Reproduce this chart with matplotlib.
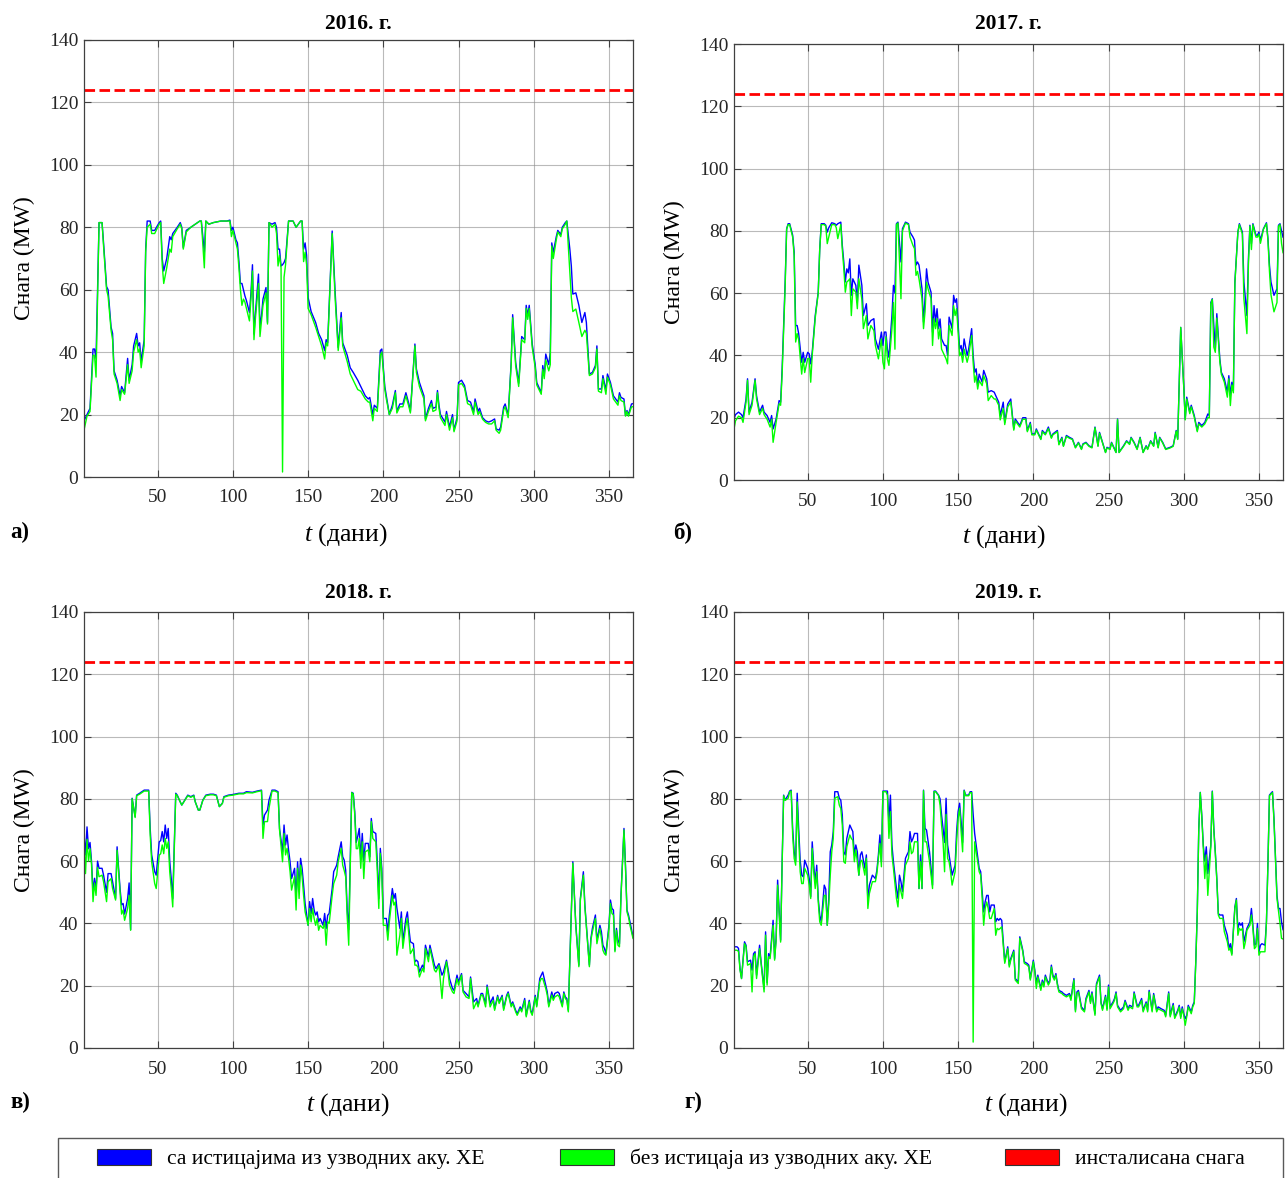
import matplotlib
matplotlib.use("Agg")
import matplotlib.pyplot as plt
from matplotlib.patches import Patch, Rectangle

plt.rcParams['font.family'] = ['Liberation Serif', 'DejaVu Serif']
plt.rcParams['mathtext.fontset'] = 'custom'
plt.rcParams['mathtext.rm'] = 'Liberation Serif'
plt.rcParams['mathtext.it'] = 'Liberation Serif:italic'

# ---------------- 2016 ----------------
days_2016 = [1, 3, 5, 7, 8, 9, 11, 13, 14, 16,
             17, 19, 20, 21, 23, 25, 26, 28, 30, 31,
             33, 34, 36, 37, 38, 39, 41, 42, 43, 45,
             46, 48, 51, 52, 53, 54, 56, 58, 59, 60,
             63, 65, 66, 67, 69, 72, 75, 78, 79, 81,
             82, 84, 87, 92, 96, 98, 99, 100, 102, 103,
             104, 105, 106, 107, 108, 109, 111, 112, 113, 114,
             115, 117, 118, 119, 120, 122, 123, 124, 126, 128,
             129, 130, 131, 132, 133, 134, 135, 137, 140, 142,
             145, 146, 147, 148, 149, 150, 152, 155, 157, 159,
             161, 162, 163, 166, 168, 170, 172, 173, 176, 178,
             180, 183, 185, 188, 190, 191, 193, 194, 196, 198,
             199, 201, 202, 204, 206, 208, 209, 211, 213, 215,
             217, 218, 221, 222, 224, 227, 228, 230, 232, 233,
             235, 236, 237, 238, 241, 242, 244, 246, 247, 249,
             250, 252, 254, 256, 258, 260, 261, 263, 264, 266,
             268, 270, 272, 274, 275, 277, 278, 280, 281, 283,
             285, 286, 288, 290, 292, 294, 295, 296, 297, 299,
             301, 302, 305, 306, 307, 308, 310, 311, 312, 313,
             315, 316, 318, 319, 321, 322, 324, 325, 326, 328,
             330, 332, 334, 335, 337, 339, 341, 342, 343, 345,
             346, 348, 349, 351, 353, 356, 357, 358, 360, 361,
             362, 363, 365, 366]
with_2016 = [18, 20, 22, 41, 41, 38, 81.5, 81.5, 75, 61,
             60, 48, 46, 34, 31, 26, 29, 27, 38, 31,
             36, 42, 46, 42, 43, 37, 44, 73, 82, 82,
             79, 79, 81.5, 82, 70, 66, 70, 77, 76, 78,
             80, 81.5, 80, 73.5, 79, 80, 81, 82, 82, 72,
             82, 81, 81.5, 82, 82, 82.3, 79, 80, 76, 75,
             69, 62, 62, 60, 58, 56.5, 52.7, 59, 68, 45.8,
             52.7, 65, 48, 51.6, 57, 60.7, 49.5, 81.5, 81, 81.5,
             80, 73, 73, 67.6, 68, 68.7, 70, 82, 82, 80,
             82, 82, 73, 75, 71, 57.5, 53, 49.5, 46, 44,
             40.5, 44, 43, 78.8, 59, 41.5, 52.7, 43, 39, 35,
             33.5, 31, 29, 26, 25, 25.5, 20, 23, 22, 40.5,
             41, 29, 26, 20, 23, 27.7, 21, 23.4, 23.4, 27,
             23.4, 21, 42.6, 34.6, 30.3, 26, 18.6, 22, 24.5, 22,
             22.4, 27.7, 23, 20, 17.6, 21, 16, 20, 15, 19,
             30.3, 31, 29.3, 24.5, 24, 20.8, 25, 21, 22, 19,
             18, 17.6, 18, 18.6, 15.4, 15, 16, 22.4, 23.4, 19.7,
             36.7, 52, 36.7, 30, 45, 44, 55, 51.6, 55, 42.6,
             36, 30.3, 27, 35.7, 32.5, 39.4, 36, 40, 75, 72,
             77, 79, 77.7, 80, 81.5, 82, 73, 67.6, 58.6, 59,
             55, 49.5, 52.7, 49.5, 33, 33.5, 35.7, 42, 28.2, 28.2,
             32.5, 27.7, 33, 30.3, 26, 24, 27, 25.5, 25, 19.7,
             21.3, 20, 23.4, 23.5]
without_2016 = [15, 19.5, 21, 39, 39, 32, 81.5, 81.5, 74, 60,
                58, 47, 44, 33, 30, 24.5, 28, 26.5, 36, 30,
                34, 40, 44, 40, 41, 35, 42, 72, 80, 81,
                78, 78, 81, 81.5, 68, 62, 67, 73, 72, 77,
                79.5, 81, 79.5, 73, 78.5, 80, 81, 82, 82, 67,
                82, 81, 81.5, 82, 82, 82, 77, 79, 75, 73,
                67, 60, 55, 57, 56, 54, 50, 57, 66, 44,
                51, 62, 45, 50, 55, 59, 49, 81.5, 80, 81,
                78, 67.6, 71, 67, 1.6, 64, 68, 82, 82, 80,
                82, 82, 69, 72, 68, 54, 52, 48, 45, 42,
                37.8, 43, 42, 78, 57, 40.5, 51, 42, 37, 33,
                31, 28, 27.5, 25, 24, 24, 18, 22, 21, 39,
                40, 28, 25, 20, 22, 27, 20.5, 22.5, 22.5, 26,
                22.5, 20.5, 42, 33.5, 29, 25, 18, 21, 23.5, 21,
                21.5, 27, 22, 19, 16.5, 20, 15, 19, 14.5, 18,
                29.5, 30, 28.5, 23.5, 23, 20, 24, 20, 21, 18.5,
                17.5, 17, 17, 18, 15, 14, 15, 21.5, 22.5, 19,
                36, 51, 35.5, 29, 44, 43, 54, 50.5, 54, 41.5,
                35, 29.5, 26.5, 34.5, 31.5, 37.5, 34, 36, 74, 70,
                76, 78.5, 77, 79.5, 81, 82, 66, 57.5, 53, 53.8,
                49.5, 45, 47, 46, 32.5, 33, 35, 41, 27.5, 27,
                31.5, 26.5, 32, 29.5, 25, 23, 26, 24.5, 24, 19.5,
                21, 19.5, 22.5, 22.5]

# ---------------- 2017 ----------------
days_2017 = [1, 2, 4, 6, 7, 9, 10, 11, 13, 15,
             16, 18, 20, 21, 23, 25, 26, 27, 29, 31,
             32, 33, 35, 36, 37, 38, 40, 41, 42, 43,
             44, 46, 47, 48, 50, 51, 52, 53, 55, 57,
             58, 59, 61, 62, 63, 64, 66, 68, 69, 70,
             72, 73, 74, 75, 76, 77, 78, 79, 80, 82,
             83, 84, 86, 87, 89, 90, 92, 94, 95, 97,
             99, 100, 101, 102, 103, 104, 106, 107, 108, 109,
             110, 112, 113, 115, 117, 118, 120, 121, 122, 123,
             124, 126, 127, 128, 129, 130, 132, 133, 134, 135,
             136, 137, 138, 139, 141, 142, 143, 144, 146, 147,
             148, 149, 151, 152, 153, 154, 156, 157, 159, 160,
             161, 162, 163, 164, 166, 167, 169, 170, 172, 174,
             175, 177, 178, 180, 181, 183, 185, 187, 188, 191,
             193, 195, 196, 198, 199, 201, 202, 205, 206, 208,
             210, 212, 213, 216, 217, 219, 220, 222, 224, 226,
             228, 230, 232, 233, 235, 237, 239, 241, 243, 244,
             246, 248, 249, 251, 252, 254, 255, 256, 257, 260,
             262, 264, 265, 267, 269, 271, 273, 275, 276, 278,
             280, 281, 283, 284, 286, 288, 291, 293, 295, 296,
             297, 298, 300, 301, 302, 304, 305, 307, 309, 310,
             312, 314, 316, 317, 318, 319, 320, 321, 322, 324,
             325, 327, 329, 330, 331, 332, 333, 334, 336, 337,
             339, 340, 341, 342, 343, 344, 345, 346, 348, 349,
             350, 351, 353, 355, 356, 357, 358, 360, 362, 363,
             364, 365, 366]
with_2017 = [19.6, 21, 21.8, 21, 20, 26, 32.5, 21.8, 25, 32.5,
             27, 21.8, 24, 21.8, 20.7, 18.5, 20.7, 16.4, 19.6, 25.5,
             25, 35.7, 63.5, 80.7, 82.3, 82.3, 78.6, 73.2, 49.6, 49.6,
             47, 37.8, 41, 37.8, 41, 40.5, 37.3, 41, 52.8, 60.3,
             74.3, 82.3, 82.3, 81.8, 79.6, 81, 82.6, 82.3, 81.8, 82.3,
             82.8, 75.4, 70, 63.6, 67.8, 66.5, 71, 59.3, 64.6, 62.5,
             57, 69, 62.5, 52.8, 56.6, 49.6, 51.2, 51.8, 45.3, 42,
             47.5, 43.2, 47.5, 47.5, 42, 39.4, 52.8, 62.5, 60, 82.3,
             82.8, 70, 80.7, 82.8, 82.3, 79.6, 78, 77, 69, 70,
             69, 61.4, 50.7, 58.2, 67.8, 63.5, 60.3, 47.5, 56, 50.7,
             55, 48.6, 51.7, 45.3, 43.2, 43.2, 40, 52.3, 48.6, 59.3,
             57, 58.2, 42, 43.2, 40, 45.3, 40, 42, 48.6, 40,
             34.6, 35.7, 30.3, 34, 31.4, 35.2, 32.5, 28.2, 28.7, 28.2,
             27.1, 25, 20.7, 25, 18.5, 24.4, 26, 16.4, 19.6, 17.5,
             20, 20, 15.9, 18.5, 14.8, 14.8, 16.4, 13.2, 15.9, 14.8,
             17, 13.7, 14.8, 15.9, 11.6, 13.7, 11, 14.3, 13.7, 13.2,
             10.5, 12.1, 10, 11.6, 12.1, 11, 10.5, 17, 11, 15.3,
             12.1, 8.9, 10.5, 10, 12.1, 10, 8.9, 19.6, 8.9, 11,
             12.6, 11.6, 13.7, 12.1, 10, 13.7, 8.9, 11, 10, 12.6,
             11, 15.3, 10.5, 13.7, 12.1, 10, 10.5, 11, 15.9, 13.2,
             31.4, 49, 30.3, 19.6, 26.6, 21.8, 24, 20.7, 15.9, 18.5,
             17.5, 18.5, 21.2, 20.7, 57, 58.2, 49.6, 42, 53.4, 38.9,
             34.6, 32.5, 28.2, 33.5, 27.1, 31.4, 28.7, 63.6, 79.6, 82.3,
             79.6, 63.6, 58.2, 52.8, 71, 81.8, 75.9, 82.3, 78.6, 78.6,
             79.6, 77, 80.7, 82.6, 77.5, 69, 63.6, 59.3, 61.4, 81.8,
             82.3, 80, 78]
without_2017 = [16.4, 19, 20.5, 20, 18.5, 25, 32, 21, 24, 32,
                26, 21, 23, 21, 19.5, 17, 19.5, 12.1, 18.5, 24.5,
                24, 34, 62, 80.5, 82, 82, 78, 72, 44.3, 47,
                45, 34, 39, 34.5, 39, 39, 31.4, 40, 52, 60,
                74, 82, 82, 81.5, 75.9, 78, 82, 82, 81, 77.5,
                82, 74, 68, 60.3, 63.6, 64, 64.6, 52.8, 61.4, 60.3,
                55, 64.6, 58, 48.6, 52.8, 45.3, 49.6, 48, 43.2, 38.9,
                45.3, 37.8, 35.7, 46, 38.9, 36.8, 48.6, 57, 42, 82,
                82.5, 58.2, 80, 82.5, 82, 78, 75.3, 74.3, 65.7, 67,
                64.6, 58.2, 48.6, 54, 63.5, 61.4, 58.2, 43.2, 51.8, 48.6,
                51.8, 45.3, 48.6, 42, 39.9, 38.9, 37.3, 49.6, 46.4, 56,
                52.8, 55, 39.9, 41, 37.8, 42, 37.8, 39.9, 46.4, 37.8,
                31.4, 33.5, 29.2, 31.9, 30.3, 33.5, 30.9, 25.5, 27.1, 26,
                26, 24, 19.3, 23, 17.8, 23.5, 25, 16, 19, 17,
                19.5, 19.5, 15.5, 18, 14.5, 14.5, 16, 13, 15.5, 14.5,
                16.5, 13.4, 14.5, 15.5, 11.3, 13.4, 10.8, 14, 13.4, 13,
                10.3, 11.9, 9.8, 11.4, 11.9, 10.8, 10.3, 16.8, 10.8, 15,
                11.9, 8.8, 10.3, 9.8, 11.9, 9.8, 8.8, 19.4, 8.8, 10.8,
                12.4, 11.4, 13.5, 11.9, 9.8, 13.5, 8.8, 10.8, 9.8, 12.4,
                10.8, 15, 10.3, 13.5, 11.9, 9.8, 10.3, 10.8, 15.7, 13,
                31, 49, 30, 19.3, 26, 21.3, 23.5, 20.2, 15.5, 18,
                17, 18, 20, 20, 56.5, 58, 42.7, 41, 52, 38,
                34, 31.4, 26.6, 32.5, 23.9, 30.5, 28, 63, 79.5, 82,
                79, 58.2, 52.8, 47, 69, 81.5, 74, 82, 78, 78,
                79, 76, 80.5, 82.3, 77, 67, 59.5, 54, 57, 81.5,
                82, 76, 73]

# ---------------- 2018 ----------------
days_2018 = [1, 2, 3, 4, 5, 6, 7, 8, 9, 10,
             11, 13, 14, 16, 17, 19, 20, 22, 23, 25,
             26, 27, 28, 30, 31, 32, 33, 35, 36, 38,
             41, 44, 45, 46, 48, 49, 51, 52, 53, 54,
             55, 56, 57, 58, 59, 60, 62, 63, 65, 66,
             68, 70, 72, 74, 75, 77, 78, 80, 82, 85,
             87, 89, 91, 93, 94, 97, 100, 104, 107, 109,
             113, 116, 119, 120, 121, 123, 124, 126, 128, 130,
             131, 133, 134, 135, 136, 137, 138, 139, 141, 142,
             143, 144, 145, 146, 147, 148, 150, 151, 152, 153,
             154, 155, 156, 157, 158, 160, 161, 162, 163, 164,
             166, 167, 169, 170, 172, 173, 174, 175, 176, 177,
             179, 180, 181, 182, 183, 184, 185, 186, 187, 188,
             190, 191, 192, 193, 195, 196, 197, 198, 199, 200,
             202, 203, 204, 206, 207, 208, 209, 211, 212, 213,
             215, 216, 217, 218, 220, 221, 222, 223, 224, 226,
             227, 228, 230, 231, 232, 234, 235, 237, 239, 240,
             242, 243, 244, 246, 247, 249, 250, 252, 253, 255,
             257, 258, 260, 262, 263, 265, 266, 268, 269, 271,
             273, 274, 276, 277, 279, 280, 282, 283, 285, 286,
             288, 289, 291, 292, 294, 295, 297, 298, 299, 301,
             302, 304, 305, 306, 308, 309, 310, 312, 313, 314,
             316, 317, 319, 320, 321, 322, 323, 325, 326, 328,
             330, 331, 333, 334, 335, 337, 338, 339, 341, 342,
             344, 345, 346, 347, 348, 350, 351, 352, 353, 354,
             355, 356, 357, 358, 360, 361, 362, 363, 364, 366]
with_2018 = [69, 62, 71, 64, 66, 60, 50, 54.5, 50.7, 60,
             57.7, 57.7, 55.5, 50, 56, 56, 53.4, 48, 64.6, 51,
             46, 46.4, 43, 48, 53, 38, 80.2, 74.3, 81.2, 81.8,
             82.8, 82.8, 70.5, 62, 56.6, 55.5, 66.2, 66.6, 69.5, 66.2,
             71.6, 67.3, 70.5, 60, 54.4, 48, 81.8, 81.2, 79, 78,
             79.6, 81.2, 80.7, 81.2, 79, 76.4, 76.4, 79.6, 81.2, 81.5,
             81.5, 81.2, 77.5, 78.6, 80.7, 81.2, 81.4, 81.8, 81.8, 82.3,
             82.1, 82.5, 82.8, 71.6, 74.8, 76.4, 79.6, 82.8, 82.8, 82.3,
             70.5, 63, 71.6, 65.2, 68.4, 63.6, 59.8, 54.4, 57.7, 48,
             59.8, 51.2, 60.9, 57.7, 52.3, 46.4, 39.4, 47, 43.2, 48,
             44.3, 42.7, 43.7, 40.5, 41.6, 39.4, 43.2, 38.4, 42.6, 43.2,
             51.2, 56.6, 58.7, 61.4, 66.2, 61.4, 60.3, 57, 44.3, 38,
             82.1, 81.8, 75.9, 66, 68, 70.5, 60.9, 68.9, 60, 65.7,
             65.7, 61.4, 73.7, 69.5, 68.9, 59.8, 48, 64.1, 57.7, 41.6,
             41.6, 37.3, 42.7, 51.2, 48, 49.6, 45, 38.4, 43.7, 34.1,
             41.6, 43.7, 38.4, 34.1, 33.5, 27.7, 28.2, 27.7, 24.4, 26.6,
             25.5, 33, 29.3, 33, 30.9, 26.6, 25.5, 27.1, 23.4, 24.4,
             28.2, 25.5, 22.3, 19.1, 18.5, 23.4, 21.2, 23.9, 18.5, 17.5,
             16.4, 22.8, 14.8, 15.9, 13.7, 17.5, 17.5, 14.3, 20.2, 14.3,
             16.4, 12.6, 16.9, 14.8, 16.9, 12.6, 16.9, 18, 13.7, 14.8,
             12.1, 11, 13.2, 12.1, 15.9, 10.5, 15.3, 12.1, 11, 16.9,
             13.7, 22.3, 23.4, 24.4, 20.2, 18, 13.7, 18, 15.9, 17.5,
             18, 17.5, 13.7, 18, 16.4, 15.9, 12.1, 43.7, 59.8, 39.4,
             26.6, 48, 56.6, 45.9, 39.4, 26.6, 35.2, 38.4, 42.7, 34.6,
             39.4, 37.3, 33, 32, 30.3, 39.4, 47.5, 44.8, 44.3, 31.4,
             38.4, 34.6, 33.5, 49, 70.5, 58.7, 44.3, 42.7, 40.5, 35.7]
without_2018 = [67, 56, 67, 60, 64, 59, 47, 53, 49, 58,
                55, 55.5, 53.4, 47, 53.4, 54.4, 51.2, 47.5, 63.5, 49.5,
                43, 44.3, 41, 44.8, 49, 37.8, 80, 74, 81, 81.5,
                82.5, 82.5, 68.4, 59.8, 52.8, 51.2, 61.9, 62.4, 65.2, 62.4,
                67.3, 64.1, 66.2, 56.6, 51.2, 45.3, 81.5, 81, 79, 78,
                79.5, 81, 80.5, 81, 79, 76.4, 76.4, 79.5, 81, 81.3,
                81.3, 81, 77.5, 78.5, 80.5, 81, 81.2, 81.6, 81.6, 82,
                81.9, 82.3, 82.6, 67.3, 72.7, 72.7, 77, 82.5, 82.5, 82,
                70, 59.8, 68.9, 62, 64.1, 60.9, 56.6, 50.7, 55, 44.3,
                57.7, 48, 58.7, 55, 49, 43.7, 39.4, 44.8, 40.5, 44.8,
                41.6, 39.4, 41.6, 37.8, 39.4, 38.4, 40.5, 33, 40.5, 40,
                49, 52.8, 55.5, 59.8, 64.1, 58.7, 57, 54.9, 42, 33,
                82, 81.5, 75, 64, 64, 67.3, 57.7, 66.2, 54.4, 63,
                63.6, 59.8, 72.7, 67.3, 66.2, 56.6, 44.8, 62.5, 56, 39.4,
                39.4, 34.6, 40.5, 49, 45.9, 46.9, 29.8, 36.2, 41.6, 32,
                39.4, 41.6, 36.2, 30.3, 32, 26.6, 26.6, 26, 22.8, 25.5,
                24.4, 31.9, 27.7, 31.9, 29.8, 25, 24.4, 26.5, 15.9, 22.3,
                27.7, 24.4, 20.2, 18, 17.5, 22.3, 20.2, 23.4, 18, 16.4,
                15.9, 22.3, 12.6, 14.8, 13.2, 17, 17, 13.2, 19.6, 13.2,
                15.3, 12.1, 16.4, 14.3, 16.4, 12.1, 16.4, 17.5, 13.2, 14.3,
                11.6, 10.5, 12.6, 11.6, 15.3, 10, 14.8, 11.6, 10.5, 16.4,
                13.2, 21.2, 22.3, 22.3, 19.1, 17, 13.2, 17, 15.3, 16.4,
                17, 16.4, 13.2, 17.5, 15.9, 15.3, 11.6, 43.2, 59.3, 38.9,
                26.1, 47.5, 55.5, 45.3, 38.9, 26.1, 34.6, 37.3, 41.6, 33.5,
                38.4, 35.2, 31.4, 30.3, 29.8, 38.4, 46.4, 43.2, 42.7, 30.9,
                37.8, 33, 32.5, 48.5, 70, 58, 43.7, 42, 39.4, 35.2]

# ---------------- 2019 ----------------
days_2019 = [1, 3, 4, 5, 6, 8, 9, 10, 12, 13,
             14, 15, 16, 18, 19, 21, 22, 23, 24, 25,
             27, 28, 29, 30, 32, 33, 34, 35, 37, 38,
             39, 40, 41, 42, 43, 44, 45, 46, 47, 48,
             50, 51, 52, 53, 54, 55, 56, 57, 58, 59,
             61, 62, 63, 64, 65, 66, 67, 68, 70, 71,
             72, 73, 74, 75, 76, 78, 79, 80, 81, 82,
             83, 84, 85, 86, 88, 89, 90, 91, 93, 95,
             96, 97, 98, 99, 100, 102, 103, 104, 105, 106,
             107, 109, 110, 111, 112, 113, 115, 116, 117, 118,
             119, 120, 121, 123, 124, 125, 126, 127, 128, 129,
             131, 132, 133, 134, 135, 137, 138, 139, 140, 141,
             142, 143, 144, 145, 146, 148, 149, 150, 151, 152,
             153, 154, 155, 157, 158, 159, 160, 161, 162, 164,
             165, 166, 167, 168, 169, 170, 171, 172, 174, 175,
             176, 177, 178, 179, 180, 181, 183, 184, 185, 187,
             188, 190, 191, 193, 194, 196, 197, 198, 200, 201,
             202, 203, 204, 205, 206, 207, 208, 210, 211, 212,
             213, 214, 215, 216, 217, 219, 220, 222, 224, 225,
             227, 228, 229, 230, 232, 233, 234, 235, 237, 238,
             239, 241, 242, 244, 245, 246, 248, 249, 250, 251,
             253, 254, 255, 256, 258, 260, 261, 263, 264, 266,
             267, 269, 270, 272, 273, 275, 276, 277, 279, 280,
             282, 283, 285, 287, 288, 290, 291, 293, 294, 296,
             297, 298, 299, 300, 301, 302, 303, 305, 306, 307,
             308, 309, 310, 311, 312, 313, 314, 315, 316, 318,
             319, 320, 321, 322, 323, 324, 326, 327, 329, 330,
             331, 332, 334, 335, 336, 337, 338, 339, 340, 341,
             342, 344, 345, 346, 347, 348, 349, 350, 351, 352,
             354, 355, 356, 357, 358, 359, 360, 362, 363, 364,
             365, 366]
with_2019 = [32.5, 32.5, 32, 25.5, 22.3, 34.1, 33, 27.7, 28.2, 25,
             30.3, 30.9, 23.4, 33, 27.7, 19, 37.3, 21, 30.3, 29.3,
             41, 28.7, 35.2, 53.9, 34.6, 59.8, 81.2, 79.6, 81.2, 82.5,
             82.8, 70.5, 63, 60, 81.8, 70.5, 60.3, 55.5, 55, 60.3,
             57.7, 54.4, 48.6, 66.2, 58.7, 53.4, 58.7, 48, 42.7, 40.5,
             52.3, 51, 39.4, 48, 63, 65.2, 69.5, 82.3, 82.3, 80.2,
             79.6, 74.8, 63, 62, 67.3, 71.6, 70.5, 69.5, 62, 65.2,
             63, 55.5, 62, 63, 57.7, 62, 47, 52.3, 55.5, 54.4,
             57.1, 62, 68.4, 59.8, 82.5, 82.5, 82.5, 72.7, 81.2, 65.2,
             59.8, 51.2, 48, 55.5, 53.4, 50.2, 60.9, 62, 63, 69.5,
             66.2, 67.3, 68.9, 68.9, 51.2, 62, 51.2, 82.8, 70.5, 70,
             63, 57.7, 52.3, 82.5, 82.5, 81.2, 80, 74.8, 70.5, 66,
             80.2, 65.2, 62, 58.7, 55.5, 58.7, 69.5, 75.9, 78.6, 72.7,
             66, 82.8, 81.2, 81.2, 82.3, 82.3, 75, 68.9, 65.2, 57.7,
             56.6, 50.2, 43.7, 47, 49, 49, 43.7, 45.9, 45.9, 40.5,
             41.6, 41, 41.6, 41, 34.1, 27.7, 32.5, 26.6, 28.7, 31.4,
             22.3, 21.2, 35.7, 31.4, 27.7, 27.1, 26.6, 22.3, 28.2, 25,
             20.7, 23.4, 21.2, 19.1, 21.8, 20.2, 23.4, 20.7, 21.8, 26.6,
             23.4, 22.3, 23.9, 20.7, 18.5, 18, 17.5, 16.9, 17.5, 15.9,
             22.3, 12.1, 18, 18.5, 13.2, 12.6, 12.1, 15.9, 18.5, 14.8,
             18, 11, 20.7, 23.4, 14.8, 12.6, 16.9, 12.6, 20.2, 13.2,
             14.8, 15.9, 18, 13.7, 12.1, 13.2, 15.3, 12.6, 13.7, 13.2,
             18, 13.7, 13.7, 15.9, 12.1, 14.8, 12.1, 18.5, 12.1, 17.5,
             12.1, 13.2, 12.6, 12.1, 10.5, 18, 10.5, 14.3, 10, 12.1,
             13.7, 10, 13.2, 11, 9.4, 10.5, 13.7, 11.6, 13.7, 14.8,
             27.7, 43.7, 70.5, 82.1, 74.8, 65.2, 60, 64.6, 56, 65.2,
             82.5, 70.5, 63, 54.4, 43.2, 42.7, 42.7, 39.4, 36.2, 32,
             33.5, 30.3, 45.3, 48, 38.4, 40.2, 39.4, 40.2, 34.1, 36.2,
             38.4, 40.5, 44.8, 39.4, 33, 33.5, 40, 30.9, 33, 33.5,
             33, 40.5, 59.8, 81.2, 81.8, 82.3, 73.7, 49, 44.8, 44.8,
             40.5, 38]
without_2019 = [31.4, 31.4, 31, 25, 22.3, 33.5, 32.5, 26.6, 27.1, 18,
                29.3, 30.3, 22.3, 31.9, 27.1, 18, 36.2, 20.2, 29.3, 28.7,
                39.4, 28.2, 34.6, 52.3, 34, 59, 81, 79.5, 80.2, 82.3,
                82.5, 68.4, 60.9, 58.7, 79, 67.3, 56.6, 52.8, 52.8, 57.7,
                55.5, 52.3, 48, 64.1, 56.6, 51.2, 56.6, 47, 40.5, 39.4,
                49, 49, 39.4, 45.9, 55.5, 63, 67.3, 80.2, 80.7, 78,
                76.9, 71.6, 59.8, 59.3, 64.6, 68.4, 67.3, 66.7, 59.8, 63.6,
                59.8, 55.5, 59.8, 60.3, 55.5, 60.9, 44.8, 49.6, 53.4, 53.4,
                56, 60.9, 65.7, 58.2, 82.3, 82.3, 81.2, 67.3, 75.9, 62,
                57.7, 48, 45.3, 52.3, 50.2, 48, 58.7, 59.8, 60.9, 66.2,
                62.4, 63, 66.2, 66.2, 51.2, 59.8, 51.2, 82.6, 66.2, 66.2,
                59.8, 55.5, 51.2, 82.3, 82.3, 81, 78, 71.6, 66.2, 56.6,
                75, 60.9, 59.8, 56.6, 52.3, 56.6, 66.2, 73.7, 77, 69.5,
                63, 82.6, 81, 81, 82, 82, 1.9, 66.2, 63, 56.6,
                55.5, 48, 39.4, 44.8, 46.9, 44.8, 41.6, 41.6, 44.8, 36.2,
                38.4, 38, 38.4, 38.9, 33, 27.2, 31.9, 26, 28.2, 30.9,
                21.8, 20.7, 35.2, 30.9, 27.2, 26.6, 26, 21.8, 27.7, 24.4,
                19.1, 22.8, 20.7, 18.5, 21.2, 19.6, 22.8, 20.2, 21.2, 26,
                22.8, 21.8, 23.4, 20.2, 18, 17.5, 17, 16.4, 17, 15.3,
                21.8, 11.6, 17.5, 18, 12.6, 12.1, 11.6, 15.3, 18, 14.3,
                17.5, 10.5, 20.2, 22.8, 14.3, 12.1, 16.4, 12.1, 19.6, 12.6,
                14.3, 15.3, 17.5, 13.2, 11.6, 12.6, 14.8, 12.1, 13.2, 12.6,
                17.5, 13.2, 13.2, 15.3, 11.6, 14.3, 11.6, 18, 11.6, 17,
                11.6, 12.6, 12.1, 11.6, 10, 17.5, 10, 13.7, 9.5, 11.6,
                13.2, 9.5, 12.6, 10.5, 7.3, 10, 13.2, 11, 13.2, 14.3,
                27.2, 43.2, 70, 82, 74.3, 64.6, 54.4, 62, 49, 64.6,
                82.3, 70, 62.4, 53.9, 42.7, 41.6, 41.6, 37.3, 34.1, 31.4,
                32, 29.8, 44.8, 47.5, 36.2, 38.4, 37.8, 38.4, 31.9, 34.1,
                37.8, 39.4, 42.7, 38.4, 31.9, 32.5, 38.4, 29.8, 30.9, 30.9,
                30.9, 40.5, 59.3, 81, 81.5, 82, 73, 48, 44, 40,
                35.2, 35]

installed = 124
years = ['2016. г.', '2017. г.', '2018. г.', '2019. г.']
letters = ['а)', 'б)', 'в)', 'г)']
labels = ['са истицајима из узводних аку. ХЕ', 'без истицаја из узводних аку. ХЕ',
          'инсталисана снага']
colors = ['#0000ff', '#00ff00', '#ff0000']

panels = [(days_2016, with_2016, without_2016),
          (days_2017, with_2017, without_2017),
          (days_2018, with_2018, without_2018),
          (days_2019, with_2019, without_2019)]

W, H = 1285, 1178
fig = plt.figure(figsize=(W / 100, H / 100), dpi=100)

# axes boxes in pixels: left, top, right, bottom
boxes = [(84, 40, 633, 477), (734, 44, 1283, 480),
         (84, 612, 633, 1048), (734, 612, 1283, 1048)]
letter_pos = [(10, 532), (673, 532), (10, 1102), (684, 1102)]
xlabel_cx = [346, 1004, 348, 1026]
title_pad = [8, 11, 10, 10]

for i, (d, b, g) in enumerate(panels):
    l, t, r, bt = boxes[i]
    ax = fig.add_axes([l / W, 1 - bt / H, (r - l) / W, (bt - t) / H])
    ax.plot(d, b, color=colors[0], lw=1.0)
    ax.plot(d, g, color=colors[1], lw=1.0)
    ax.axhline(installed, color=colors[2], lw=2.0, ls=(0, (3.8, 1.6)))
    ax.set_xlim(1, 366)
    ax.set_ylim(0, 140)
    ax.set_xticks(range(50, 351, 50))
    ax.set_yticks(range(0, 141, 20))
    ax.grid(True, color='0.55', lw=0.8, alpha=0.6)
    ax.tick_params(direction='in', top=True, right=True, labelsize=14,
                   length=5, width=0.8, color='0.25', labelcolor='0.15')
    ax.tick_params(axis='x', pad=9)
    ax.tick_params(axis='y', pad=4)
    for s in ax.spines.values():
        s.set_color('0.25')
        s.set_linewidth(0.9)
    ax.set_title(years[i], fontsize=15.5, fontweight='bold', pad=title_pad[i])
    ax.set_ylabel('Снага (MW)', fontsize=17, labelpad=10)
    ax.set_xlabel(r'$t$ (дани)', fontsize=18.5)
    ax.xaxis.set_label_coords((xlabel_cx[i] - l) / (r - l), -0.10)
    lx, ly = letter_pos[i]
    fig.text(lx / W, 1 - ly / H, letters[i], fontsize=16.5, fontweight='bold',
             va='center', ha='left')

# legend box along the bottom edge
fig.patches.append(Rectangle((58 / W, -0.01), 1225 / W, 1 - 1138 / H + 0.01,
                             transform=fig.transFigure, facecolor='white',
                             edgecolor='0.35', lw=1.0))
item_x = [97, 560, 1005]
for k in range(3):
    h = Patch(facecolor=colors[k], edgecolor='0.2', lw=0.8)
    fig.legend([h], [labels[k]], loc='center left',
               bbox_to_anchor=(item_x[k] / W, 1 - 1159 / H),
               frameon=False, fontsize=15.5, handlelength=2.5,
               handleheight=0.75, handletextpad=0.75,
               borderpad=0, borderaxespad=0)

fig.savefig('out.png', dpi=100)
